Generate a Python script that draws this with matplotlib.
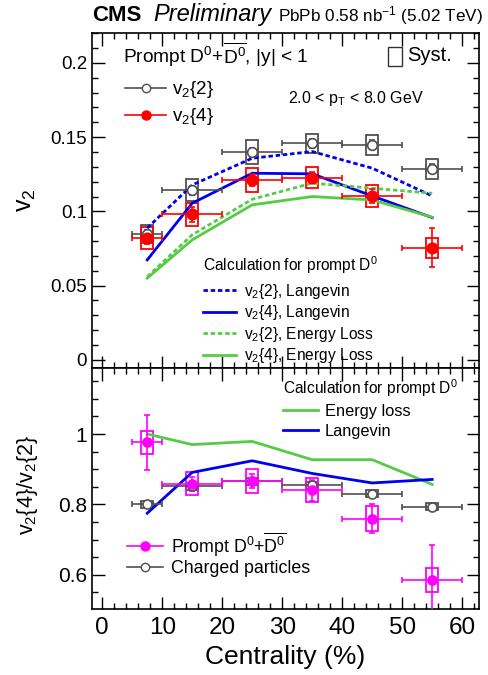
import matplotlib
matplotlib.use("Agg")
import matplotlib.pyplot as plt
from matplotlib.patches import Rectangle
from matplotlib.lines import Line2D
from matplotlib.ticker import MultipleLocator

plt.rcParams["font.family"] = ["Liberation Sans", "DejaVu Sans"]
plt.rcParams["mathtext.fontset"] = "custom"
plt.rcParams["mathtext.rm"] = "Liberation Sans"
plt.rcParams["mathtext.it"] = "Liberation Sans:italic"
plt.rcParams["mathtext.default"] = "regular"

# ---------------- data ----------------
cent = [7.5, 15, 25, 35, 45, 55]
cent_lo = [5, 10, 20, 30, 40, 50]
cent_hi = [10, 20, 30, 40, 50, 60]

# D0 v2{2}
v22 = [0.0846, 0.1143, 0.1399, 0.1459, 0.1448, 0.1286]
v22_err = [0.003, 0.003, 0.003, 0.003, 0.003, 0.003]
v22_sys = [0.006, 0.0073, 0.008, 0.0065, 0.0067, 0.0067]

# D0 v2{4}
v24 = [0.082, 0.0981, 0.1212, 0.1228, 0.1104, 0.0756]
v24_err = [0.004, 0.005, 0.004, 0.004, 0.005, 0.0129]
v24_sys = [0.0075, 0.0078, 0.0083, 0.0073, 0.0072, 0.0068]

# model curves
lang_v22 = [0.0887, 0.1178, 0.1358, 0.1403, 0.1291, 0.1104]
lang_v24 = [0.0673, 0.1055, 0.1257, 0.1253, 0.1104, 0.0958]
eloss_v22 = [0.056, 0.0842, 0.1082, 0.1190, 0.1156, 0.1122]
eloss_v24 = [0.055, 0.0808, 0.1044, 0.1100, 0.1077, 0.0961]

# ratio panel
ratio_d0 = [0.976, 0.859, 0.866, 0.840, 0.760, 0.585]
ratio_d0_err = [0.079, 0.02, 0.02, 0.03, 0.041, 0.10]
ratio_d0_sys = [0.033, 0.033, 0.034, 0.034, 0.035, 0.035]

ratio_ch = [0.800, 0.852, 0.866, 0.855, 0.830, 0.794]
ratio_ch_sys = [0.01, 0.01, 0.01, 0.01, 0.01, 0.01]

ratio_eloss = [1.0, 0.970, 0.979, 0.927, 0.927, 0.857]
ratio_lang = [0.775, 0.891, 0.924, 0.888, 0.861, 0.871]

RED = "#ff0000"
BLUE = "#0000ee"
GREEN = "#55cc44"
MAG = "#ff00ff"
GRAY = "#505050"
DOT = (0, (1.6, 1.0))

W, H = 488, 675
fig = plt.figure(figsize=(W / 100, H / 100), dpi=100)

left, right = 92 / W, 479 / W
ax1 = fig.add_axes([left, 1 - 368 / H, right - left, (368 - 32.5) / H])
ax2 = fig.add_axes([left, 1 - 609 / H, right - left, (609 - 368) / H])


def style(ax):
    ax.set_xlim(-1.7, 62.8)
    ax.xaxis.set_major_locator(MultipleLocator(10))
    ax.xaxis.set_minor_locator(MultipleLocator(2))
    ax.tick_params(which="both", direction="in", top=True, right=True,
                   labelsize=13.5, width=1)
    ax.tick_params(which="major", length=9)
    ax.tick_params(which="minor", length=4.5)
    for s in ax.spines.values():
        s.set_linewidth(1.2)


def boxes(ax, xs, ys, sys, color, hw=1.0, lw=1.3):
    for x, y, s in zip(xs, ys, sys):
        ax.add_patch(Rectangle((x - hw, y - s), 2 * hw, 2 * s, fill=False,
                               edgecolor=color, lw=lw, zorder=3))


def points(ax, ys, yerr, color, filled, ms):
    xerr = [[c - lo for c, lo in zip(cent, cent_lo)],
            [hi - c for c, hi in zip(cent, cent_hi)]]
    ax.errorbar(cent, ys, xerr=xerr, yerr=yerr, fmt="o", color=color,
                mfc=color if filled else "white", mec=color, ms=ms,
                capsize=2, capthick=1, elinewidth=1.2, mew=1.2, zorder=5)


# ---------------- upper panel ----------------
style(ax1)
ax1.set_ylim(-0.0055, 0.2205)
ax1.yaxis.set_minor_locator(MultipleLocator(0.01))
ax1.set_yticks([0, 0.05, 0.1, 0.15, 0.2])
ax1.set_yticklabels(["0", "0.05", "0.1", "0.15", "0.2"])
ax1.tick_params(labelbottom=False)
ax1.set_ylabel("v$_2$", fontsize=18)
ax1.yaxis.set_label_coords(-0.14, 0.5)

ax1.plot(cent, lang_v22, color=BLUE, ls=DOT, lw=2, zorder=4)
ax1.plot(cent, lang_v24, color=BLUE, ls="-", lw=2, zorder=4)
ax1.plot(cent, eloss_v22, color=GREEN, ls=DOT, lw=2, zorder=4)
ax1.plot(cent, eloss_v24, color=GREEN, ls="-", lw=2, zorder=4)

boxes(ax1, cent, v22, v22_sys, GRAY)
boxes(ax1, cent, v24, v24_sys, RED)
points(ax1, v22, v22_err, GRAY, False, 7)
points(ax1, v24, v24_err, RED, True, 7.5)

ax1.text(0.08, 0.909, r"Prompt D$^0$+$\overline{D^0}$, |y| < 1",
         transform=ax1.transAxes, fontsize=13.8)
ax1.text(0.506, 0.79, r"2.0 < p$_T$ < 8.0 GeV", transform=ax1.transAxes,
         fontsize=11.5)
ax1.add_patch(Rectangle((0.764, 0.900), 0.036, 0.057, fill=False, lw=1,
                        edgecolor="#333333", transform=ax1.transAxes))
ax1.text(0.815, 0.915, "Syst.", transform=ax1.transAxes, fontsize=14.5)

leg1 = ax1.legend(
    [Line2D([], [], color=GRAY, marker="o", mfc="white", ms=6, lw=1.2),
     Line2D([], [], color=RED, marker="o", mfc=RED, ms=6.5, lw=1.2)],
    ["v$_2${2}", "v$_2${4}"], loc="upper left",
    bbox_to_anchor=(0.085, 0.86), frameon=False, fontsize=13.5,
    borderpad=0, borderaxespad=0,
    handlelength=2.2, handletextpad=0.33, labelspacing=0.32)

leg2 = ax1.legend(
    [Line2D([], [], color=BLUE, ls=DOT, lw=2),
     Line2D([], [], color=BLUE, lw=2),
     Line2D([], [], color=GREEN, ls=DOT, lw=2),
     Line2D([], [], color=GREEN, lw=2)],
    ["v$_2${2}, Langevin", "v$_2${4}, Langevin",
     "v$_2${2}, Energy Loss", "v$_2${4}, Energy Loss"],
    loc="upper left", bbox_to_anchor=(0.287, 0.338), frameon=False,
    borderpad=0, borderaxespad=0,
    fontsize=11.2, handlelength=2.1, handletextpad=0.5, labelspacing=0.16,
    title=r"Calculation for prompt D$^0$", title_fontsize=11.2)
leg2._legend_box.align = "left"
leg2._legend_box.sep = 4
ax1.add_artist(leg1)

# ---------------- lower panel ----------------
style(ax2)
ax2.set_ylim(0.503, 1.1875)
ax2.yaxis.set_minor_locator(MultipleLocator(0.05))
ax2.set_yticks([0.6, 0.8, 1.0])
ax2.set_yticklabels(["0.6", "0.8", "1"])
ax2.set_ylabel("v$_2${4}/v$_2${2}", fontsize=15.5)
ax2.yaxis.set_label_coords(-0.134, 0.515)
ax2.set_xlabel("Centrality (%)", fontsize=19)
ax2.tick_params(axis="x", labelsize=17.5, pad=6)
ax2.tick_params(axis="y", labelsize=15)

ax2.plot(cent, ratio_eloss, color=GREEN, lw=2, zorder=4)
ax2.plot(cent, ratio_lang, color=BLUE, lw=2, zorder=4)

boxes(ax2, cent, ratio_ch, ratio_ch_sys, GRAY)
boxes(ax2, cent, ratio_d0, ratio_d0_sys, MAG)
points(ax2, ratio_ch, [0.005] * 6, GRAY, False, 6.5)
points(ax2, ratio_d0, ratio_d0_err, MAG, True, 6.5)

leg3 = ax2.legend(
    [Line2D([], [], color=GREEN, lw=2), Line2D([], [], color=BLUE, lw=2)],
    ["Energy loss", "Langevin"], loc="upper left",
    bbox_to_anchor=(0.494, 0.962), frameon=False, fontsize=11.8,
    borderpad=0, borderaxespad=0,
    handlelength=2.1, handletextpad=0.45, labelspacing=0.3,
    title=r"Calculation for prompt D$^0$", title_fontsize=11.2)
leg3._legend_box.align = "left"

leg4 = ax2.legend(
    [Line2D([], [], color=MAG, marker="o", mfc=MAG, ms=6.5, lw=1.2),
     Line2D([], [], color=GRAY, marker="o", mfc="white", ms=6, lw=1.2)],
    [r"Prompt D$^0$+$\overline{D^0}$", "Charged particles"],
    loc="upper left", bbox_to_anchor=(0.09, 0.327), frameon=False,
    borderpad=0, borderaxespad=0,
    fontsize=12.8, handlelength=2.05, handletextpad=0.45, labelspacing=0.1)
ax2.add_artist(leg3)

# ---------------- header ----------------
fig.text(92 / W, 1 - 21 / H, "CMS", fontsize=16, fontweight="bold")
fig.text(153 / W, 1 - 21 / H, "Preliminary", fontsize=17, style="italic")
fig.text(278 / W, 1 - 21 / H, r"PbPb 0.58 nb$^{-1}$ (5.02 TeV)", fontsize=12.3)

fig.savefig("out.png", dpi=100)
